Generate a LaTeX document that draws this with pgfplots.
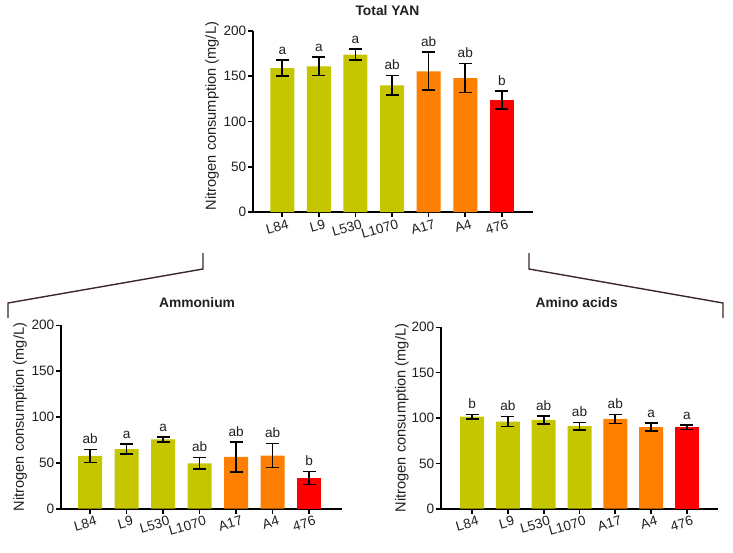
\documentclass[border=0pt]{standalone}
\usepackage{pgfplots}
\pgfplotsset{compat=1.18}
\usepackage{pgfplotstable}
\usepackage{fontspec}
\setmainfont{Liberation Sans}
\definecolor{olivebar}{RGB}{198,198,0}
\definecolor{orangebar}{RGB}{255,128,0}
\definecolor{redbar}{RGB}{255,0,0}
\definecolor{bracket}{RGB}{60,40,38}
\definecolor{txt}{RGB}{35,31,32}

\pgfplotstableread{
x y e lab
0 159 9 a
1 161 10 a
2 174 6 a
3 140 11 ab
4 155.5 21 ab
5 148 16 ab
6 123.5 10 b
}\totaltab

\pgfplotstableread{
x y e lab
0 57.5 7 ab
1 65 5.5 a
2 75.5 3 a
3 49.5 6.5 ab
4 56.5 16.5 ab
5 58 13 ab
6 33.5 7 b
}\ammtab

\pgfplotstableread{
x y e lab
0 101.5 2.5 b
1 96 5.5 ab
2 98 4.5 ab
3 91 4 ab
4 99 5 ab
5 90 4.5 a
6 90 2.5 a
}\amitab

\pgfplotsset{
  mybars/.style={
    scale only axis,
    width=280pt, height=181pt,
    xmin=-0.8, xmax=6.85, ymin=0, ymax=200,
    axis x line*=bottom, axis y line*=left,
    axis line style={line width=1.6pt, black},
    every tick/.style={line width=1.6pt, black},
    major tick length=5pt,
    tick align=outside,
    xtick={0,...,6},
    xticklabels={L84,L9,L530,L1070,A17,A4,476},
    ytick={0,50,100,150,200},
    x tick label style={rotate=16, anchor=north east, inner sep=1pt, xshift=5pt, yshift=-2pt, font=\fontsize{13.6}{15}\selectfont, text=txt},
    y tick label style={font=\fontsize{13.6}{15}\selectfont, inner sep=1.5pt, text=txt},
    /pgf/number format/assume math mode=true,
    ylabel={Nitrogen consumption (mg/L)},
    ylabel style={font=\fontsize{14.6}{16}\selectfont, at={(axis description cs:-0.146,0.53)}, anchor=center, text=txt},
    title style={font=\bfseries\fontsize{13.8}{15}\selectfont, anchor=center, text=txt},
    ybar, bar width=24pt, bar shift=0pt,
    clip=false,
  },
  errb/.style={
    error bars/y dir=both, error bars/y explicit,
    error bars/error bar style={line width=1.6pt, black},
    error bars/error mark options={rotate=90, mark size=6.5pt, line width=1.6pt, black},
  },
  letters/.style={
    draw=none, fill=none, bar shift=0pt,
    nodes near coords, point meta=explicit symbolic,
    nodes near coords style={anchor=south, yshift=2pt, font=\fontsize{13.6}{15}\selectfont, text=txt},
  },
}

\begin{document}
\begin{tikzpicture}
\useasboundingbox (0pt,0pt) rectangle (733pt,-552pt);

% Top: Total YAN
\begin{axis}[mybars, at={(253pt,-212pt)}, anchor=south west,
  title={Total YAN}, title style={at={(0.48,1)}, yshift=14.5pt}]
\addplot[fill=olivebar, draw=none, bar shift=0pt, errb, restrict x to domain=0:3]
  table[x=x, y=y, y error=e] {\totaltab};
\addplot[fill=orangebar, draw=none, bar shift=0pt, errb, restrict x to domain=4:5]
  table[x=x, y=y, y error=e] {\totaltab};
\addplot[fill=redbar, draw=none, bar shift=0pt, errb, restrict x to domain=6:6]
  table[x=x, y=y, y error=e] {\totaltab};
\addplot[letters] table[x=x, y expr=\thisrow{y}+\thisrow{e}, meta=lab] {\totaltab};
\end{axis}

% Bottom left: Ammonium
\begin{axis}[mybars, at={(61pt,-508.7pt)}, anchor=south west,
  width=281pt, height=183.4pt, xmax=6.9,
  ylabel style={at={(axis description cs:-0.146,0.5)}},
  title={Ammonium}, title style={at={(0.484,1)}, yshift=17pt}]
\addplot[fill=olivebar, draw=none, bar shift=0pt, errb, restrict x to domain=0:3]
  table[x=x, y=y, y error=e] {\ammtab};
\addplot[fill=orangebar, draw=none, bar shift=0pt, errb, restrict x to domain=4:5]
  table[x=x, y=y, y error=e] {\ammtab};
\addplot[fill=redbar, draw=none, bar shift=0pt, errb, restrict x to domain=6:6]
  table[x=x, y=y, y error=e] {\ammtab};
\addplot[letters] table[x=x, y expr=\thisrow{y}+\thisrow{e}, meta=lab] {\ammtab};
\end{axis}

% Bottom right: Amino acids
\begin{axis}[mybars, at={(441pt,-508.7pt)}, anchor=south west,
  width=277pt, height=181.4pt, xmin=-0.87, xmax=6.87,
  ylabel style={at={(axis description cs:-0.141,0.5)}},
  title={Amino acids}, title style={at={(0.49,1)}, yshift=19pt}]
\addplot[fill=olivebar, draw=none, bar shift=0pt, errb, restrict x to domain=0:3]
  table[x=x, y=y, y error=e] {\amitab};
\addplot[fill=orangebar, draw=none, bar shift=0pt, errb, restrict x to domain=4:5]
  table[x=x, y=y, y error=e] {\amitab};
\addplot[fill=redbar, draw=none, bar shift=0pt, errb, restrict x to domain=6:6]
  table[x=x, y=y, y error=e] {\amitab};
\addplot[letters] table[x=x, y expr=\thisrow{y}+\thisrow{e}, meta=lab] {\amitab};
\end{axis}

% connecting brackets
\draw[bracket, line width=1.4pt] (203pt,-253pt) -- (203pt,-269pt) -- (8pt,-303pt) -- (8pt,-318pt);
\draw[bracket, line width=1.4pt] (529pt,-253pt) -- (529pt,-269pt) -- (723pt,-303pt) -- (723pt,-318pt);
\end{tikzpicture}
\end{document}
